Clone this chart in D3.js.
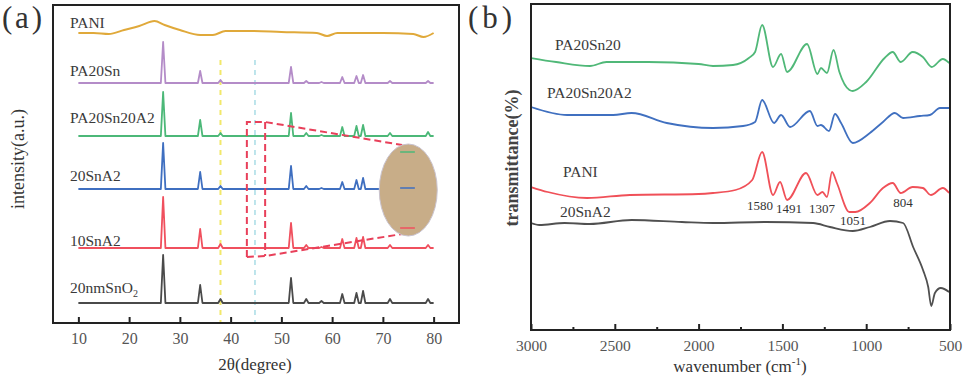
<!DOCTYPE html>
<html>
<head>
<meta charset="utf-8">
<script src="https://cdn.jsdelivr.net/npm/d3@7/dist/d3.min.js"></script>
<style>
  body { margin: 0; background: #fff; }
  text { font-family: "Liberation Serif", "Times New Roman", serif; }
</style>
</head>
<body>
<div id="chart"></div>
<script>
// ---- XRD panel (a) ----
const xrdTicks = [10, 20, 30, 40, 50, 60, 70, 80];
const sno2Peaks = [26.7, 34.0, 38.0, 51.9, 54.9, 57.9, 62.0, 64.8, 66.1, 71.4, 78.9];
const xrdNames = ["20nmSnO2", "10SnA2", "20SnA2", "PA20Sn20A2", "PA20Sn"];
const xrdOffsets = [20, 75, 134, 187, 240];
const xrdHeights = [
  [48, 18, 4, 25, 4, 2, 9, 10, 12, 4, 4],
  [51, 19, 4, 25, 3, 1, 9, 10, 11, 3, 3],
  [46, 17, 3, 23, 3, 1, 7, 9, 11, 3, 3],
  [44, 16, 3, 23, 3, 1, 9, 10, 11, 3, 4],
  [41, 12, 3, 16, 2, 1, 6, 7, 8, 2, 2]
];
const xrdColors = ["#4a4a4a", "#f0505e", "#3f6fc0", "#4cb878", "#b48cc8"];
const paniXrd = [
  [10, 290], [13, 290], [16, 289], [19, 293], [22, 297], [25, 302], [27, 298],
  [30, 293], [34, 288], [36.5, 288], [39, 292], [44, 292], [50, 291], [57, 290],
  [59, 287], [61, 290], [70, 290], [76, 289], [78, 286], [80, 290]
];

// ---- FTIR panel (b) ----
const ftirTicks = [3000, 2500, 2000, 1500, 1000, 500];
const ftirMinor = [2750, 2250, 1750, 1250, 750];
const ftirNames = ["PA20Sn20", "PA20Sn20A2", "PANI", "20SnA2"];
const ftirColors = ["#50b878", "#4070c0", "#f05058", "#505050"];
const ftirGreen = [
  [3000, 272], [2850, 268], [2648, 264], [2550, 268], [2300, 268], [2000, 266],
  [1914, 264], [1795, 265], [1700, 272], [1663, 278], [1621, 305], [1556, 263],
  [1508, 276], [1472, 258], [1353, 286], [1291, 256], [1270, 262], [1234, 257],
  [1195, 280], [1160, 258], [1100, 240], [1080, 239], [1000, 248], [890, 272],
  [842, 278], [794, 268], [723, 278], [662, 273], [609, 263], [543, 271], [505, 267]
];
const ftirBlue = [
  [3000, 223], [2784, 215], [2650, 215], [2510, 215], [2400, 217], [2190, 207],
  [1914, 202], [1735, 204], [1663, 208], [1621, 230], [1550, 207], [1508, 215],
  [1454, 203], [1336, 219], [1291, 204], [1270, 205], [1222, 199], [1186, 216],
  [1150, 207], [1080, 187], [978, 197], [900, 208], [829, 217], [780, 212],
  [680, 214], [620, 215], [560, 222], [505, 222]
];
const ftirRed = [
  [3000, 143], [2900, 138], [2665, 132], [2410, 135], [2000, 136], [1914, 137],
  [1780, 140], [1680, 150], [1621, 178], [1556, 135], [1514, 148], [1472, 130],
  [1359, 157], [1291, 135], [1261, 138], [1234, 133], [1204, 158], [1175, 147],
  [1100, 118], [1065, 118], [978, 127], [900, 142], [842, 147], [794, 137],
  [723, 143], [662, 142], [614, 135], [543, 142], [505, 137]
];
const ftirBlack = [
  [3000, 107], [2950, 105], [2800, 107], [2650, 106], [2400, 110], [2100, 108],
  [1914, 107], [1600, 108], [1317, 107], [1216, 103], [1080, 99], [978, 103],
  [858, 109], [780, 107], [720, 83], [661, 60], [630, 43], [612, 24], [590, 37],
  [555, 42], [505, 38]
];
const ftirPeakLabels = ["1580", "1491", "1307", "1051", "804"];

const W = 963, H = 379;
const serif = "'Liberation Serif', 'Times New Roman', serif";
const svg = d3.select("#chart").append("svg")
    .attr("width", W).attr("height", H);

// ===== panel (a) =====
const aBox = {left: 53, right: 459, top: 5, bottom: 323};
const xA = d3.scaleLinear().domain([5, 85]).range([aBox.left, aBox.right]);
const yA = d3.scaleLinear().domain([0, 318]).range([aBox.bottom, aBox.top]);

const axA = svg.append("g")
    .attr("transform", `translate(0,${aBox.bottom})`)
    .call(d3.axisBottom(xA).tickValues(xrdTicks).tickFormat(d3.format("d"))
      .tickSizeInner(-6).tickSizeOuter(0).tickPadding(10))
    .attr("font-family", serif).attr("font-size", 16);
axA.select(".domain").remove();
axA.selectAll("line").attr("stroke", "#222").attr("stroke-width", 2);
axA.selectAll("text").attr("fill", "#555");

// guide lines
svg.append("line")
    .attr("x1", xA(38.0)).attr("x2", xA(38.0))
    .attr("y1", yA(263)).attr("y2", yA(0))
    .attr("stroke", "#f2e86a").attr("stroke-width", 2).attr("stroke-dasharray", "5,5");
svg.append("line")
    .attr("x1", xA(44.8)).attr("x2", xA(44.8))
    .attr("y1", yA(263)).attr("y2", yA(0))
    .attr("stroke", "#a8dce6").attr("stroke-width", 1.5).attr("stroke-dasharray", "5,5");

const lineA = d3.line().x(d => xA(d[0])).y(d => yA(d[1]));

function xrdPoints(k) {
  const off = xrdOffsets[k];
  const pts = [[10, off]];
  sno2Peaks.forEach((p, i) => {
    pts.push([p - 0.45, off], [p, off + xrdHeights[k][i]], [p + 0.45, off]);
  });
  pts.push([80, off]);
  return pts;
}

xrdNames.forEach((name, k) => {
  svg.append("path")
      .attr("d", lineA(xrdPoints(k)))
      .attr("fill", "none")
      .attr("stroke", xrdColors[k])
      .attr("stroke-width", 1.8)
      .attr("stroke-linejoin", "round");
});
svg.append("path")
    .attr("d", lineA.curve(d3.curveMonotoneX)(paniXrd))
    .attr("fill", "none").attr("stroke", "#e0a93a").attr("stroke-width", 2);

// zoom annotation
const zx0 = 43.2, zx1 = 46.8, zTop = 201, zBot = 66;
const red = "#e8405a";
const zoomG = svg.append("g").attr("fill", "none").attr("stroke", red)
    .attr("stroke-width", 2).attr("stroke-dasharray", "7,4");
zoomG.append("path").attr("d",
  `M${xA(zx0)},${yA(zBot)}V${yA(zTop)}H${xA(zx1)}L${xA(73.8)},${yA(178)}`);
zoomG.append("path").attr("d",
  `M${xA(zx1)},${yA(zTop)}V${yA(zBot + 1)}`);
zoomG.append("path").attr("d",
  `M${xA(zx0)},${yA(zBot)}L${xA(zx1)},${yA(zBot + 1)}L${xA(73.8)},${yA(89)}`);

svg.append("ellipse")
    .attr("cx", xA(75)).attr("cy", yA(133)).attr("rx", 29).attr("ry", 46)
    .attr("fill", "#c8ad88").attr("stroke", "#c9c3cf").attr("stroke-width", 1);
[[171, "#4cb878"], [135, "#3f6fc0"], [95, "#f0505e"]].forEach(d => {
  svg.append("line")
      .attr("x1", xA(73.4)).attr("x2", xA(76.3))
      .attr("y1", yA(d[0])).attr("y2", yA(d[0]))
      .attr("stroke", d[1]).attr("stroke-width", 1.5);
});

// labels
const aLabelDy = [-10, -2, -8, -13, -7];
xrdNames.forEach((name, k) => {
  const t = svg.append("text")
      .attr("x", 70).attr("y", yA(xrdOffsets[k]) + aLabelDy[k])
      .attr("font-size", 15.5).attr("fill", "#3a3a3a");
  if (name === "20nmSnO2") {
    t.append("tspan").text("20nmSnO");
    t.append("tspan").text("2").attr("font-size", 10).attr("dy", 4);
  } else {
    t.text(name);
  }
});
svg.append("text").attr("x", 70).attr("y", 28)
    .attr("font-size", 15.5).attr("fill", "#3a3a3a").text("PANI");

svg.append("rect")
    .attr("x", aBox.left).attr("y", aBox.top)
    .attr("width", aBox.right - aBox.left).attr("height", aBox.bottom - aBox.top)
    .attr("fill", "none").attr("stroke", "#222").attr("stroke-width", 2);

svg.append("text").attr("x", 255).attr("y", 370).attr("text-anchor", "middle")
    .attr("font-size", 17).attr("fill", "#333").text("2θ(degree)");
svg.append("text")
    .attr("transform", "translate(24,159) rotate(-90)")
    .attr("text-anchor", "middle").attr("font-size", 18).attr("fill", "#333")
    .text("intensity(a.u.)");
svg.append("text").attr("x", 2).attr("y", 28)
    .attr("font-size", 31).attr("fill", "#333").attr("textLength", 40).text("(a)");

// ===== panel (b) =====
const bBox = {left: 531, right: 950, top: 4, bottom: 330};
const xB = d3.scaleLinear().domain([3000, 500]).range([bBox.left, bBox.right]);
const yB = d3.scaleLinear().domain([0, 326]).range([bBox.bottom, bBox.top]);

const axB = svg.append("g")
    .attr("transform", `translate(0,${bBox.bottom})`)
    .call(d3.axisBottom(xB).tickValues(ftirTicks).tickFormat(d3.format("d"))
      .tickSizeInner(-6).tickSizeOuter(0).tickPadding(10))
    .attr("font-family", serif).attr("font-size", 15.5);
axB.select(".domain").remove();
axB.selectAll("line").attr("stroke", "#222").attr("stroke-width", 2);
axB.selectAll("text").attr("fill", "#555");
const axBm = svg.append("g")
    .attr("transform", `translate(0,${bBox.bottom})`)
    .call(d3.axisBottom(xB).tickValues(ftirMinor).tickSizeInner(-3).tickSizeOuter(0).tickFormat(""));
axBm.select(".domain").remove();
axBm.selectAll("line").attr("stroke", "#222").attr("stroke-width", 2);

const lineB = d3.line().x(d => xB(d[0])).y(d => yB(d[1])).curve(d3.curveMonotoneX);
[ftirGreen, ftirBlue, ftirRed, ftirBlack].forEach((s, k) => {
  svg.append("path")
      .attr("d", lineB(s))
      .attr("fill", "none").attr("stroke", ftirColors[k]).attr("stroke-width", 1.8);
});

const bLabelPos = [[555, 50], [547, 98], [563, 177], [560, 217]];
ftirNames.forEach((name, k) => {
  svg.append("text").attr("x", bLabelPos[k][0]).attr("y", bLabelPos[k][1])
      .attr("font-size", 15.5).attr("fill", "#3a3a3a").text(name);
});

const peakPos = [[760, 210], [789, 213], [822, 213], [853, 225], [903, 207]];
ftirPeakLabels.forEach((lab, i) => {
  svg.append("text").attr("x", peakPos[i][0]).attr("y", peakPos[i][1])
      .attr("text-anchor", "middle").attr("font-size", 13).attr("fill", "#333").text(lab);
});

svg.append("rect")
    .attr("x", bBox.left).attr("y", bBox.top)
    .attr("width", bBox.right - bBox.left).attr("height", bBox.bottom - bBox.top)
    .attr("fill", "none").attr("stroke", "#222").attr("stroke-width", 2);

const xt = svg.append("text").attr("x", 740).attr("y", 372).attr("text-anchor", "middle")
    .attr("font-size", 17).attr("fill", "#333");
xt.append("tspan").text("wavenumber (cm");
xt.append("tspan").text("-1").attr("font-size", 11).attr("dy", -7);
xt.append("tspan").text(")").attr("dy", 7);

svg.append("text")
    .attr("transform", "translate(518,158) rotate(-90)")
    .attr("text-anchor", "middle").attr("font-size", 18).attr("font-weight", "bold")
    .attr("fill", "#444").text("transmittance(%)");
svg.append("text").attr("x", 468).attr("y", 28)
    .attr("font-size", 31).attr("fill", "#333").attr("textLength", 44).text("(b)");
</script>
</body>
</html>
